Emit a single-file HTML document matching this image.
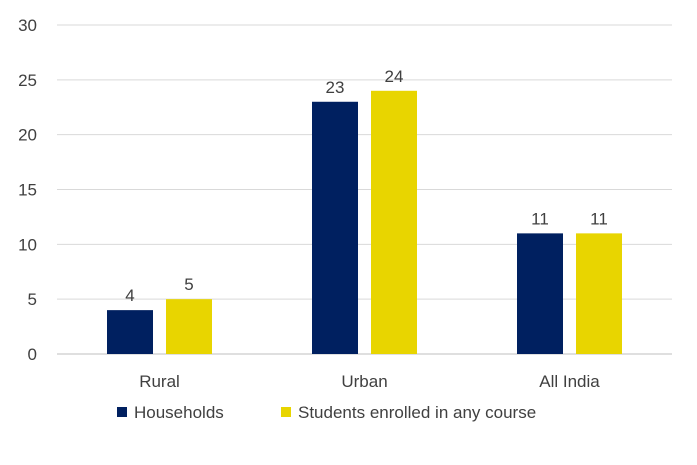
<!DOCTYPE html>
<html><head><meta charset="utf-8"><style>
body{margin:0;background:#fff;}
svg text{font-family:"Liberation Sans",sans-serif;fill:#404040;}
</style></head><body>
<svg width="697" height="460" xmlns="http://www.w3.org/2000/svg">
<g id="grid"></g>
<g id="yt"></g>
<g id="bars"></g>
<g id="xt"></g>
<g>
<rect x="117" y="407" width="10" height="10" fill="#002060"/>
<text x="134" y="418" font-size="17">Households</text>
<rect x="281" y="407" width="10" height="10" fill="#E8D500"/>
<text x="298" y="418" font-size="17">Students enrolled in any course</text>
</g>
</svg>
<script>
const categories=["Rural","Urban","All India"];
const households=[4,23,11];
const students=[5,24,11];
const yTicks=[0,5,10,15,20,25,30];
const NS="http://www.w3.org/2000/svg";
const x0=57,x1=672,yBase=354,yTop=25,yMax=30;
const y=v=>yBase-(yBase-yTop)*v/yMax;
const cw=(x1-x0)/categories.length;
function mk(tag,attrs,parent,txt){const e=document.createElementNS(NS,tag);for(const k in attrs)e.setAttribute(k,attrs[k]);if(txt!==undefined)e.textContent=txt;document.getElementById(parent).appendChild(e);return e;}
yTicks.forEach(t=>{
 const l=mk('line',{x1:x0,x2:x1,y1:y(t),y2:y(t),stroke:t===0?'#bfbfbf':'#d9d9d9','stroke-width':1},'grid');
 
 
 const tx=mk('text',{x:37,y:y(t)+6,'text-anchor':'end','font-size':17},'yt',t);
 
 
});
const bw=46,gap=13;
categories.forEach((c,i)=>{
 const cx=x0+cw*(i+0.5);
 [[households,'#002060',cx-gap/2-bw,'households'],[students,'#E8D500',cx+gap/2,'students']].forEach(([arr,col,bx,nm])=>{
  const v=arr[i];
  const r=mk('rect',{x:bx,y:y(v),width:bw,height:yBase-y(v),fill:col},'bars');
  
  
  const t=mk('text',{x:bx+bw/2,y:y(v)-9,'text-anchor':'middle','font-size':17},'bars',v);
  
  
 });
 const l=mk('text',{x:cx,y:387,'text-anchor':'middle','font-size':17},'xt',c);
 
 
});
</script>
</body></html>
